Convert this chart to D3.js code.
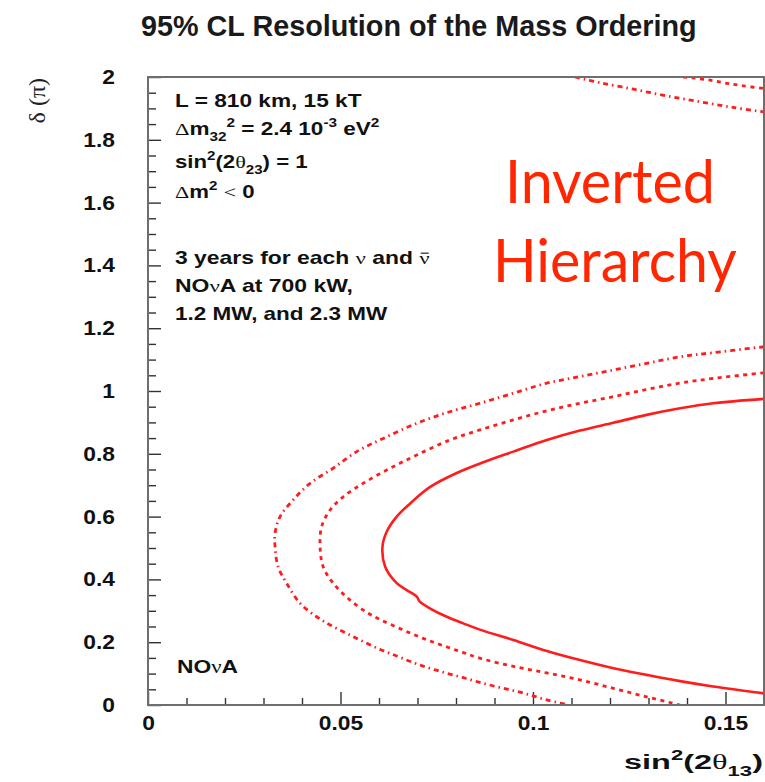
<!DOCTYPE html>
<html>
<head>
<meta charset="utf-8">
<script src="https://cdn.jsdelivr.net/npm/d3@7"></script>
<style>
  body { margin: 0; background: #fff; }
  svg { display: block; }
</style>
</head>
<body>
<svg id="chart" width="765" height="782"></svg>
<script>
// 95% CL mass-ordering contours, inverted hierarchy: [sin²(2θ13), δ/π]
const curve700kW = [
  [0.160,0.975],[0.1468,0.961],[0.1382,0.945],[0.1295,0.924],[0.1209,0.899],[0.1122,0.874],
  [0.1036,0.844],[0.0949,0.807],[0.0871,0.773],[0.0802,0.739],[0.0732,0.694],[0.0681,0.642],
  [0.0646,0.600],[0.0620,0.552],[0.0609,0.504],[0.0616,0.440],[0.0646,0.388],[0.0672,0.366],
  [0.0698,0.345],[0.0706,0.329],[0.0732,0.308],[0.0776,0.281],[0.0819,0.260],[0.0862,0.240],
  [0.0949,0.207],[0.1036,0.172],[0.1122,0.143],[0.1209,0.117],[0.1295,0.096],[0.1382,0.076],
  [0.1468,0.059],[0.160,0.037]
];
const curve1p2MW = [
  [0.160,1.058],[0.1468,1.040],[0.1382,1.025],[0.1295,1.005],[0.1209,0.982],[0.1122,0.961],
  [0.1036,0.937],[0.0949,0.908],[0.0862,0.876],[0.0784,0.844],[0.0698,0.796],[0.0629,0.754],
  [0.0559,0.706],[0.0507,0.663],[0.0473,0.621],[0.0451,0.568],[0.0447,0.504],[0.0455,0.440],
  [0.0481,0.388],[0.0525,0.334],[0.0572,0.292],[0.0603,0.272],[0.0646,0.248],[0.0689,0.225],
  [0.0732,0.204],[0.0776,0.185],[0.0819,0.167],[0.0862,0.149],[0.0949,0.123],[0.1036,0.102],
  [0.1122,0.080],[0.1209,0.053],[0.1295,0.026],[0.1382,0.0]
];
const curve1p2MWTop = [
  [0.1390,2.0],[0.1416,1.997],[0.1460,1.990],[0.1503,1.980],[0.1546,1.972],[0.160,1.963]
];
const curve2p3MW = [
  [0.160,1.141],[0.1468,1.122],[0.1382,1.109],[0.1295,1.088],[0.1209,1.067],[0.1122,1.046],
  [0.1036,1.025],[0.0949,0.993],[0.0862,0.961],[0.0784,0.934],[0.0698,0.897],[0.0611,0.849],
  [0.0542,0.807],[0.0481,0.754],[0.0421,0.706],[0.0377,0.653],[0.0343,0.600],[0.0330,0.547],
  [0.0330,0.504],[0.0338,0.440],[0.0360,0.388],[0.0395,0.324],[0.0438,0.281],[0.0473,0.255],
  [0.0516,0.228],[0.0559,0.202],[0.0603,0.177],[0.0646,0.156],[0.0689,0.135],[0.0732,0.117],
  [0.0776,0.101],[0.0819,0.087],[0.0862,0.072],[0.0906,0.058],[0.0949,0.046],[0.0992,0.032],
  [0.1036,0.016],[0.1092,0.0]
];
const curve2p3MWTop = [
  [0.1109,2.0],[0.1174,1.982],[0.1261,1.961],[0.1347,1.940],[0.1434,1.921],[0.1520,1.903],[0.160,1.889]
];

const xMajorTicks = [0, 0.05, 0.1, 0.15];
const xTickLabels = ["0", "0.05", "0.1", "0.15"];
const yMajorTicks = [0, 0.2, 0.4, 0.6, 0.8, 1, 1.2, 1.4, 1.6, 1.8, 2];
const yTickLabels = ["0", "0.2", "0.4", "0.6", "0.8", "1", "1.2", "1.4", "1.6", "1.8", "2"];
const xMinorTicks = d3.range(1, 16).map(i => i / 100).filter(v => Math.abs(v * 20 - Math.round(v * 20)) > 1e-6);
const yMinorTicks = d3.range(1, 40).map(i => i / 20).filter(v => Math.abs(v * 5 - Math.round(v * 5)) > 1e-6);

const SANS = "'Liberation Sans', Arial, Helvetica, sans-serif";
const SERIF = "'Liberation Serif', 'Times New Roman', serif";
const RED = "#ff1c1c";

const svg = d3.select("#chart");
const x = d3.scaleLinear().domain([0, 0.16]).range([148, 764]);
const y = d3.scaleLinear().domain([0, 2]).range([705, 77]);

// fit an element horizontally into [left, left+width] on the given baseline
function fitText(sel, left, baseline, width) {
  const bb = sel.node().getBBox();
  const sx = width / bb.width;
  sel.attr("transform", `translate(${left},${baseline}) scale(${sx},1) translate(${-bb.x},0)`);
}

// rich text in a group: segments {t, f:'sym'|undefined, s: 1 sup / -1 sub / 0, bar: overline}
function richText(parent, segs, size) {
  const g = parent.append("g");
  const t = g.append("text").attr("font-size", size).attr("fill", "#111");
  let shift = 0;
  const barred = [];
  segs.forEach(seg => {
    const s = seg.s || 0;
    const target = s === 1 ? -0.45 * size : s === -1 ? 0.32 * size : 0;
    const ts = t.append("tspan")
      .attr("dy", target - shift)
      .attr("font-size", s ? size * 0.68 : size)
      .attr("font-family", seg.f === "sym" ? SERIF : SANS)
      .attr("font-weight", seg.f === "sym" ? "normal" : "bold")
      .text(seg.t);
    shift = target;
    if (seg.bar) barred.push(ts);
  });
  // overline drawn above barred glyphs
  barred.forEach(ts => {
    const b = ts.node().getBBox();
    g.append("line")
      .attr("x1", b.x + b.width * 0.12).attr("x2", b.x + b.width * 0.88)
      .attr("y1", -0.62 * size).attr("y2", -0.62 * size)
      .attr("stroke", "#111").attr("stroke-width", 1.1);
  });
  return g;
}

// title
const title = svg.append("text")
  .attr("font-family", SANS).attr("font-weight", "bold").attr("font-size", 29)
  .attr("fill", "#1a1a1a")
  .text("95% CL Resolution of the Mass Ordering");
fitText(title, 141, 36, 556);

// axes: ticks point into the frame
const yAxis = svg.append("g").attr("transform", `translate(${x(0)},0)`).attr("color", "#333")
  .call(d3.axisLeft(y).tickValues(yMajorTicks).tickSize(-13).tickPadding(33)
    .tickFormat((d, i) => yTickLabels[i]))
  .call(g => g.select(".domain").remove());
svg.append("g").attr("transform", `translate(${x(0)},0)`).attr("color", "#333")
  .call(d3.axisLeft(y).tickValues(yMinorTicks).tickSize(-8).tickFormat(""))
  .call(g => g.select(".domain").remove());

const xAxis = svg.append("g").attr("transform", `translate(0,${y(0)})`).attr("color", "#333")
  .call(d3.axisBottom(x).tickValues(xMajorTicks).tickSize(-13).tickPadding(11)
    .tickFormat((d, i) => xTickLabels[i]))
  .call(g => g.select(".domain").remove());
svg.append("g").attr("transform", `translate(0,${y(0)})`).attr("color", "#333")
  .call(d3.axisBottom(x).tickValues(xMinorTicks).tickSize(-7).tickFormat(""))
  .call(g => g.select(".domain").remove());

svg.selectAll(".tick line").attr("stroke-width", 1.4);

yAxis.selectAll("text")
  .attr("font-family", SANS).attr("font-weight", "bold").attr("font-size", 20)
  .attr("fill", "#111")
  .attr("x", 0)
  .attr("transform", "translate(-33,0) scale(1.14,1)");
xAxis.selectAll("text")
  .attr("font-family", SANS).attr("font-weight", "bold").attr("font-size", 20)
  .attr("fill", "#111")
  .attr("transform", "scale(1.14,1)");

// contours
svg.append("clipPath").attr("id", "plotArea")
  .append("rect").attr("x", x(0)).attr("y", y(2)).attr("width", x(0.16) - x(0)).attr("height", y(0) - y(2));

const line = d3.line().x(d => x(d[0])).y(d => y(d[1])).curve(d3.curveCatmullRom.alpha(0.5));
const contours = [
  { data: curve2p3MW,    dash: "5,4,1.5,4", width: 2.8 },
  { data: curve2p3MWTop, dash: "5,4,1.5,4", width: 2.8 },
  { data: curve1p2MW,    dash: "4,4.5",     width: 2.8 },
  { data: curve1p2MWTop, dash: "4,4.5",     width: 2.8 },
  { data: curve700kW,    dash: null,        width: 2.6 }
];
svg.append("g").attr("clip-path", "url(#plotArea)")
  .selectAll("path").data(contours).join("path")
  .attr("d", d => line(d.data))
  .attr("fill", "none")
  .attr("stroke", RED)
  .attr("stroke-width", d => d.width)
  .attr("stroke-dasharray", d => d.dash);

// frame
svg.append("rect")
  .attr("x", x(0)).attr("y", y(2)).attr("width", x(0.16) - x(0)).attr("height", y(0) - y(2))
  .attr("fill", "none").attr("stroke", "#6e6e6e").attr("stroke-width", 2);

// axis titles
svg.append("text")
  .attr("transform", "translate(45,78) rotate(-90)")
  .attr("text-anchor", "end")
  .attr("font-family", SERIF).attr("font-size", 24).attr("fill", "#222")
  .text("δ (π)");

const xTitle = richText(svg, [
  { t: "sin" }, { t: "2", s: 1 }, { t: "(2" }, { t: "θ", f: "sym" }, { t: "13", s: -1 }, { t: ")" }
], 21);
fitText(xTitle, 624, 769, 139);

// run conditions
const info = [
  { segs: [{ t: "L = 810 km, 15 kT" }], base: 107, w: 187 },
  { segs: [{ t: "Δ", f: "sym" }, { t: "m" }, { t: "32", s: -1 }, { t: "2", s: 1 }, { t: " = 2.4 10" },
           { t: "-3", s: 1 }, { t: " eV" }, { t: "2", s: 1 }], base: 135, w: 205 },
  { segs: [{ t: "sin" }, { t: "2", s: 1 }, { t: "(2" }, { t: "θ", f: "sym" }, { t: "23", s: -1 },
           { t: ") = 1" }], base: 168, w: 133 },
  { segs: [{ t: "Δ", f: "sym" }, { t: "m" }, { t: "2", s: 1 }, { t: " " }, { t: "<", f: "sym" }, { t: " 0" }],
    base: 198, w: 80 },
  { segs: [{ t: "3 years for each " }, { t: "ν", f: "sym" }, { t: " and " }, { t: "ν", f: "sym", bar: true }],
    base: 264, w: 255 },
  { segs: [{ t: "NO" }, { t: "ν", f: "sym" }, { t: "A at 700 kW," }], base: 292, w: 178 },
  { segs: [{ t: "1.2 MW, and 2.3 MW" }], base: 320, w: 213 }
];
info.forEach(row => fitText(richText(svg, row.segs, 17.5), 175, row.base, row.w));

const nova = richText(svg, [{ t: "NO" }, { t: "ν", f: "sym" }, { t: "A" }], 18);
fitText(nova, 177, 673, 61);

// hierarchy label
const hier = [
  { t: "Inverted", left: 505, base: 203, w: 210 },
  { t: "Hierarchy", left: 493, base: 282, w: 244 }
];
hier.forEach(h => {
  const t = svg.append("text")
    .attr("font-family", "Lato, 'Open Sans', sans-serif").attr("font-size", 60)
    .attr("fill", "#ff2600").text(h.t);
  fitText(t, h.left, h.base, h.w);
});
</script>
</body>
</html>
